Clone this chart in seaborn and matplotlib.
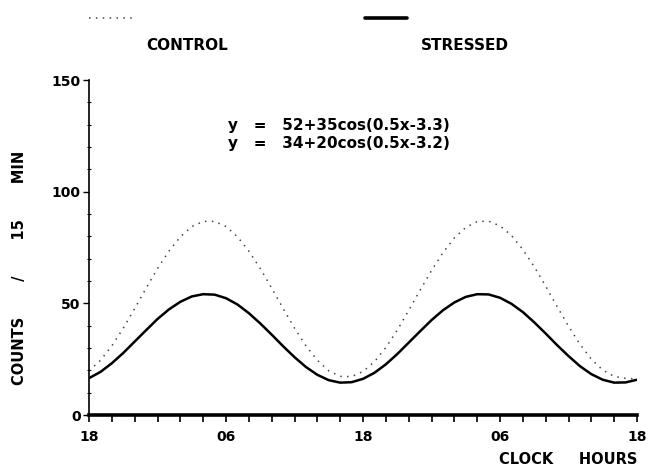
#!/usr/bin/env python3

import pandas as pd
import seaborn as sns
import matplotlib.pyplot as plt
from matplotlib.lines import Line2D

# hours after 18:00
hours = list(range(49))
control = [19.8, 24.5, 31.0, 38.9, 47.7, 56.8, 65.6, 73.4, 79.8, 84.4,
           86.7, 86.7, 84.4, 79.8, 73.4, 65.6, 56.8, 47.7, 38.9, 31.0,
           24.5, 19.8, 17.3, 17.2, 19.5, 23.9, 30.2, 38.0, 46.8, 55.9,
           64.7, 72.7, 79.3, 84.0, 86.6, 86.8, 84.7, 80.4, 74.1, 66.4,
           57.7, 48.6, 39.8, 31.7, 25.0, 20.1, 17.3, 16.4, 16.2]
stressed = [16.5, 19.3, 23.2, 27.8, 32.9, 38.0, 43.0, 47.3, 50.7, 53.1,
            54.1, 53.9, 52.3, 49.5, 45.6, 41.0, 36.0, 30.8, 25.9, 21.5,
            18.0, 15.6, 14.5, 14.7, 16.2, 18.9, 22.7, 27.3, 32.4, 37.5,
            42.5, 46.9, 50.4, 52.9, 54.1, 54.0, 52.5, 49.8, 46.1, 41.5,
            36.5, 31.3, 26.4, 21.9, 18.3, 15.8, 14.5, 14.6, 15.8]

hour_ticks = [0, 12, 24, 36, 48]
hour_labels = ['18', '06', '18', '06', '18']
count_ticks = [0, 50, 100, 150]
equations = ['y   =   52+35cos(0.5x-3.3)', 'y   =   34+20cos(0.5x-3.2)']

data = pd.DataFrame({'hour': hours, 'control': control, 'stressed': stressed})

sns.set_style("white")
plt.rcParams['font.family'] = ['DejaVu Sans']
plt.rcParams['font.weight'] = 'bold'
plt.rcParams['text.color'] = 'black'

fig = plt.figure(figsize=(6.5, 4.68), dpi=100)
ax = fig.add_axes([0.137, 0.1132, 0.843, 0.7158])

sns.lineplot(x='hour', y='control', data=data, color='#444444',
             linewidth=1.1, linestyle=(0, (1, 3.5)), ax=ax)
sns.lineplot(x='hour', y='stressed', data=data, color='black',
             linewidth=1.8, ax=ax)

ax.set_xlim(0, 48)
ax.set_ylim(0, 150)
ax.set_xticks(hour_ticks)
ax.set_xticklabels(hour_labels, fontsize=10, fontweight='bold')
ax.set_xticks(range(0, 49, 2), minor=True)
ax.set_yticks(count_ticks)
ax.set_yticklabels([str(t) for t in count_ticks], fontsize=10,
                   fontweight='bold')
ax.set_yticks(range(0, 151, 10), minor=True)
ax.tick_params(axis='x', which='both', bottom=True, direction='out',
               length=5, width=1.2, pad=6, colors='black')
ax.tick_params(axis='y', which='major', left=True, direction='out',
               length=4, width=1.0, pad=2, colors='black')
ax.tick_params(axis='y', which='minor', left=True, direction='inout',
               length=3, width=0.8, colors='black')

for side in ['top', 'right']:
    ax.spines[side].set_visible(False)
ax.spines['bottom'].set_linewidth(2.6)
ax.spines['left'].set_linewidth(1.2)
ax.spines['bottom'].set_color('black')
ax.spines['left'].set_color('black')

ax.set_xlabel('')
ax.set_ylabel('COUNTS       /       15       MIN', fontsize=10.5,
              fontweight='bold', color='black')
ax.yaxis.set_label_coords(-0.113, 0.44)

ax.text(0.254, 0.865, equations[0], transform=ax.transAxes,
        fontsize=11, fontweight='bold', va='center')
ax.text(0.254, 0.81, equations[1], transform=ax.transAxes,
        fontsize=11, fontweight='bold', va='center')

fig.text(637 / 650, 1 - 460 / 468, 'CLOCK     HOURS', ha='right',
         va='center', fontsize=10.5, fontweight='bold')

# legend drawn as line sample above its label
fig.add_artist(Line2D([89 / 650, 133 / 650], [1 - 18 / 468] * 2,
                      color='#444444', linewidth=1.1,
                      linestyle=(0, (1, 3.5))))
fig.add_artist(Line2D([365 / 650, 407 / 650], [1 - 18 / 468] * 2,
                      color='black', linewidth=2.6))
fig.text(187 / 650, 1 - 45 / 468, 'CONTROL', ha='center', va='center',
         fontsize=11, fontweight='bold')
fig.text(465 / 650, 1 - 45 / 468, 'STRESSED', ha='center', va='center',
         fontsize=11, fontweight='bold')

plt.savefig('out.png', format='png')
